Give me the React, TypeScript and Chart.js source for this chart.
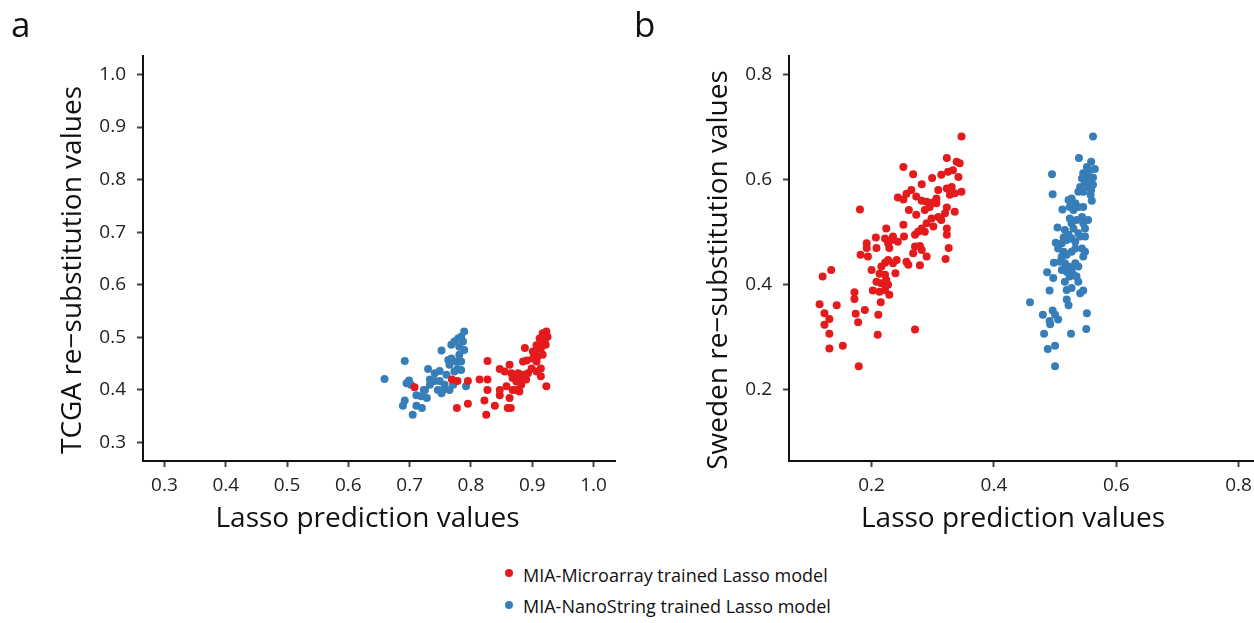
import React, { useEffect, useRef } from "react";
import { Chart, registerables } from "chart.js";

Chart.register(...registerables);

const RED = "#E41A1C";
const BLUE = "#377EB8";

const seriesNames = ["MIA-Microarray trained Lasso model", "MIA-NanoString trained Lasso model"];

// Panel a (TCGA)
const aRed: number[][] = [
  [0.708, 0.405], [0.769, 0.42], [0.778, 0.417], [0.795, 0.417], [0.777, 0.366], [0.795, 0.374],
  [0.814, 0.42], [0.827, 0.42], [0.827, 0.455], [0.827, 0.4], [0.822, 0.38], [0.825, 0.353],
  [0.839, 0.37], [0.847, 0.39], [0.847, 0.4], [0.847, 0.44], [0.855, 0.435], [0.863, 0.448],
  [0.866, 0.432], [0.86, 0.366], [0.863, 0.385], [0.868, 0.4], [0.874, 0.416], [0.879, 0.423],
  [0.882, 0.41], [0.885, 0.429], [0.89, 0.42], [0.893, 0.432], [0.877, 0.432], [0.868, 0.423],
  [0.858, 0.407], [0.874, 0.4], [0.888, 0.48], [0.891, 0.456], [0.901, 0.46], [0.904, 0.473],
  [0.907, 0.485], [0.912, 0.498], [0.917, 0.508], [0.923, 0.511], [0.914, 0.479], [0.909, 0.464],
  [0.92, 0.492], [0.925, 0.501], [0.917, 0.467], [0.914, 0.441], [0.914, 0.426], [0.907, 0.435],
  [0.923, 0.407], [0.899, 0.441], [0.901, 0.473], [0.907, 0.454], [0.885, 0.454], [0.879, 0.397],
  [0.865, 0.366], [0.919, 0.5], [0.922, 0.486], [0.915, 0.49],
];
const aBlue: number[][] = [
  [0.659, 0.421], [0.692, 0.455], [0.695, 0.413], [0.699, 0.418], [0.702, 0.41], [0.692, 0.38],
  [0.689, 0.37], [0.705, 0.353], [0.711, 0.39], [0.711, 0.37], [0.72, 0.366], [0.728, 0.385],
  [0.725, 0.4], [0.73, 0.44], [0.733, 0.42], [0.741, 0.417], [0.749, 0.436], [0.746, 0.4],
  [0.752, 0.475], [0.757, 0.41], [0.76, 0.429], [0.765, 0.448], [0.768, 0.46], [0.763, 0.457],
  [0.749, 0.417], [0.754, 0.4], [0.765, 0.4], [0.771, 0.41], [0.773, 0.435], [0.776, 0.454],
  [0.781, 0.467], [0.768, 0.486], [0.773, 0.492], [0.779, 0.498], [0.784, 0.501], [0.789, 0.511],
  [0.787, 0.492], [0.781, 0.482], [0.789, 0.476], [0.784, 0.454], [0.778, 0.44], [0.784, 0.438],
  [0.792, 0.407], [0.719, 0.388], [0.741, 0.432], [0.733, 0.41], [0.752, 0.394], [0.723, 0.4],
];

// Panel b (Sweden)
const bRed: number[][] = [
  [0.347, 0.682], [0.323, 0.641], [0.339, 0.634], [0.344, 0.631], [0.325, 0.615], [0.333, 0.618],
  [0.342, 0.605], [0.314, 0.609], [0.252, 0.624], [0.268, 0.61], [0.299, 0.603], [0.282, 0.591],
  [0.309, 0.58], [0.323, 0.583], [0.331, 0.586], [0.336, 0.574], [0.347, 0.577], [0.328, 0.571],
  [0.265, 0.58], [0.257, 0.573], [0.243, 0.566], [0.252, 0.562], [0.273, 0.568], [0.282, 0.56],
  [0.29, 0.558], [0.298, 0.556], [0.306, 0.564], [0.181, 0.543], [0.261, 0.542], [0.273, 0.533],
  [0.287, 0.542], [0.295, 0.548], [0.306, 0.555], [0.298, 0.526], [0.309, 0.529], [0.32, 0.536],
  [0.323, 0.547], [0.336, 0.539], [0.314, 0.523], [0.252, 0.514], [0.224, 0.507], [0.323, 0.507],
  [0.323, 0.495], [0.29, 0.517], [0.282, 0.507], [0.276, 0.501], [0.271, 0.495], [0.287, 0.501],
  [0.301, 0.511], [0.253, 0.492], [0.235, 0.492], [0.243, 0.482], [0.233, 0.485], [0.207, 0.49],
  [0.222, 0.488], [0.227, 0.479], [0.229, 0.47], [0.192, 0.479], [0.192, 0.47], [0.208, 0.47],
  [0.182, 0.457], [0.194, 0.454], [0.271, 0.473], [0.279, 0.474], [0.268, 0.46], [0.29, 0.454],
  [0.282, 0.466], [0.326, 0.47], [0.321, 0.449], [0.257, 0.444], [0.26, 0.438], [0.279, 0.437],
  [0.227, 0.447], [0.241, 0.447], [0.235, 0.441], [0.222, 0.442], [0.216, 0.435], [0.2, 0.428],
  [0.213, 0.421], [0.222, 0.419], [0.239, 0.422], [0.208, 0.406], [0.216, 0.403], [0.224, 0.409],
  [0.227, 0.4], [0.222, 0.39], [0.202, 0.389], [0.213, 0.387], [0.229, 0.381], [0.172, 0.386],
  [0.172, 0.373], [0.215, 0.367], [0.134, 0.428], [0.12, 0.416], [0.115, 0.363], [0.143, 0.361],
  [0.123, 0.346], [0.131, 0.335], [0.123, 0.324], [0.174, 0.345], [0.189, 0.352], [0.178, 0.329],
  [0.211, 0.343], [0.131, 0.307], [0.21, 0.305], [0.271, 0.315], [0.131, 0.279], [0.153, 0.284],
  [0.179, 0.245],
];
const bBlue: number[][] = [
  [0.562, 0.682], [0.539, 0.641], [0.495, 0.61], [0.496, 0.572], [0.512, 0.543], [0.552, 0.624],
  [0.546, 0.612], [0.544, 0.602], [0.549, 0.593], [0.541, 0.586], [0.538, 0.577], [0.546, 0.577],
  [0.554, 0.586], [0.522, 0.561], [0.527, 0.564], [0.533, 0.555], [0.524, 0.548], [0.53, 0.542],
  [0.538, 0.548], [0.546, 0.548], [0.524, 0.526], [0.527, 0.517], [0.535, 0.523], [0.544, 0.529],
  [0.546, 0.517], [0.53, 0.507], [0.538, 0.498], [0.549, 0.507], [0.554, 0.523], [0.504, 0.509],
  [0.516, 0.504], [0.522, 0.495], [0.514, 0.49], [0.511, 0.479], [0.519, 0.485], [0.527, 0.488],
  [0.533, 0.482], [0.541, 0.492], [0.549, 0.492], [0.501, 0.48], [0.505, 0.469], [0.514, 0.463],
  [0.511, 0.454], [0.519, 0.457], [0.527, 0.463], [0.533, 0.469], [0.544, 0.469], [0.549, 0.463],
  [0.546, 0.454], [0.498, 0.442], [0.508, 0.444], [0.516, 0.441], [0.522, 0.435], [0.511, 0.428],
  [0.519, 0.425], [0.527, 0.428], [0.533, 0.441], [0.538, 0.435], [0.487, 0.424], [0.497, 0.413],
  [0.516, 0.406], [0.524, 0.416], [0.53, 0.419], [0.535, 0.416], [0.538, 0.406], [0.491, 0.389],
  [0.519, 0.39], [0.527, 0.394], [0.541, 0.384], [0.546, 0.389], [0.519, 0.372], [0.522, 0.361],
  [0.459, 0.367], [0.48, 0.343], [0.496, 0.351], [0.5, 0.343], [0.505, 0.334], [0.491, 0.331],
  [0.492, 0.325], [0.552, 0.346], [0.551, 0.316], [0.482, 0.307], [0.526, 0.307], [0.488, 0.278],
  [0.5, 0.284], [0.5, 0.245], [0.559, 0.634], [0.556, 0.601], [0.562, 0.604], [0.558, 0.571],
  [0.559, 0.58], [0.552, 0.61], [0.556, 0.618], [0.562, 0.59], [0.565, 0.62], [0.56, 0.56],
];

const aXTicks = [0.3, 0.4, 0.5, 0.6, 0.7, 0.8, 0.9, 1.0];
const aYTicks = [0.3, 0.4, 0.5, 0.6, 0.7, 0.8, 0.9, 1.0];
const bXTicks = [0.2, 0.4, 0.6, 0.8];
const bYTicks = [0.2, 0.4, 0.6, 0.8];

const FONT = "'Open Sans', sans-serif";
const CW = 640;
const CH = 545;

const axisTitlePlugin = {
  id: "axisTitles",
  afterDraw(chart: any, _args: any, opts: any) {
    const { ctx, chartArea } = chart;
    ctx.save();
    ctx.fillStyle = "#111";
    ctx.font = `28px ${FONT}`;
    ctx.textAlign = "center";
    ctx.textBaseline = "alphabetic";
    const cx = (chartArea.left + chartArea.right) / 2 - 11.5;
    ctx.fillText(opts.x, cx, chartArea.bottom + 66);
    const cy = (chartArea.top + chartArea.bottom) / 2 + 11.5;
    ctx.translate(chartArea.left - 62, cy);
    ctx.rotate(-Math.PI / 2);
    ctx.fillText(opts.y, 0, 0);
    ctx.restore();
  },
};

function makeConfig(
  red: number[][],
  blue: number[][],
  xRange: number[],
  yRange: number[],
  xTicks: number[],
  yTicks: number[],
  yTitle: string,
  rightPad: number
): any {
  const toPts = (arr: number[][]) => arr.map(([x, y]) => ({ x, y }));
  const tickCfg = (vals: number[]) => ({
    afterBuildTicks: (scale: any) => {
      scale.ticks = vals.map((v) => ({ value: v }));
    },
  });
  const grid = { display: true, drawOnChartArea: false, drawTicks: true, tickLength: 6, tickColor: "#444", tickWidth: 2 };
  const tickFont = { family: FONT, size: 19 };
  return {
    type: "scatter",
    data: {
      datasets: [
        {
          label: seriesNames[0],
          data: toPts(red),
          backgroundColor: RED,
          borderWidth: 0,
          pointRadius: 4,
          pointHoverRadius: 4,
        },
        {
          label: seriesNames[1],
          data: toPts(blue),
          backgroundColor: BLUE,
          borderWidth: 0,
          pointRadius: 4,
          pointHoverRadius: 4,
        },
      ],
    },
    plugins: [axisTitlePlugin],
    options: {
      animation: false,
      responsive: false,
      events: [],
      layout: { padding: { top: 56, right: rightPad, left: 0, bottom: 0 } },
      plugins: {
        legend: { display: false },
        tooltip: { enabled: false },
        axisTitles: { x: "Lasso prediction values", y: yTitle },
      },
      scales: {
        x: {
          type: "linear",
          min: xRange[0],
          max: xRange[1],
          ...tickCfg(xTicks),
          afterFit: (s: any) => {
            s.height = CH - 461;
          },
          border: { display: true, color: "#111", width: 2 },
          grid,
          ticks: {
            autoSkip: false,
            maxRotation: 0,
            padding: 7,
            color: "#222",
            font: tickFont,
            callback: (v: any) => Number(v).toFixed(1),
          },
        },
        y: {
          type: "linear",
          min: yRange[0],
          max: yRange[1],
          ...tickCfg(yTicks),
          afterFit: (s: any) => {
            s.width = 143;
          },
          border: { display: true, color: "#111", width: 2 },
          grid,
          ticks: {
            autoSkip: false,
            padding: 11,
            color: "#222",
            font: tickFont,
            callback: (v: any) => Number(v).toFixed(1),
          },
        },
      },
    },
  };
}

function Panel(props: { cfg: any; left: number }) {
  const ref = useRef<HTMLCanvasElement | null>(null);
  useEffect(() => {
    if (!ref.current) return;
    const chart = new Chart(ref.current, props.cfg);
    return () => chart.destroy();
  }, []);
  return (
    <canvas
      ref={ref}
      width={CW}
      height={CH}
      style={{ position: "absolute", left: props.left, top: 0, width: CW, height: CH }}
    />
  );
}

export default function App() {
  const cfgA = makeConfig(aRed, aBlue, [0.265, 1.035], [0.265, 1.035], aXTicks, aYTicks, "TCGA re\u2212substitution values", CW - 615);
  const cfgB = makeConfig(bRed, bBlue, [0.065, 0.835], [0.065, 0.835], bXTicks, bYTicks, "Sweden re\u2212substitution values", 646 + CW - 1260);
  const letter: React.CSSProperties = {
    position: "absolute",
    top: 4,
    fontFamily: FONT,
    fontSize: 35,
    lineHeight: "40px",
    color: "#111",
  };
  const legText: React.CSSProperties = {
    position: "absolute",
    left: 523,
    fontFamily: FONT,
    fontSize: 18,
    lineHeight: "24px",
    color: "#111",
    whiteSpace: "nowrap",
  };
  const dot = (color: string, top: number): React.CSSProperties => ({
    position: "absolute",
    left: 509 - 4,
    top: top - 4,
    width: 8,
    height: 8,
    borderRadius: "50%",
    background: color,
  });
  return (
    <div
      style={{
        position: "fixed",
        left: 0,
        top: 0,
        width: 1254,
        height: 623,
        overflow: "hidden",
        background: "#fff",
      }}
    >
      <Panel cfg={cfgA} left={0} />
      <Panel cfg={cfgB} left={646} />
      <div style={{ ...letter, left: 11 }}>a</div>
      <div style={{ ...letter, left: 634 }}>b</div>
      <div style={dot(RED, 573)} />
      <div style={{ ...legText, top: 563 }}>{seriesNames[0]}</div>
      <div style={dot(BLUE, 605)} />
      <div style={{ ...legText, top: 594 }}>{seriesNames[1]}</div>
    </div>
  );
}
